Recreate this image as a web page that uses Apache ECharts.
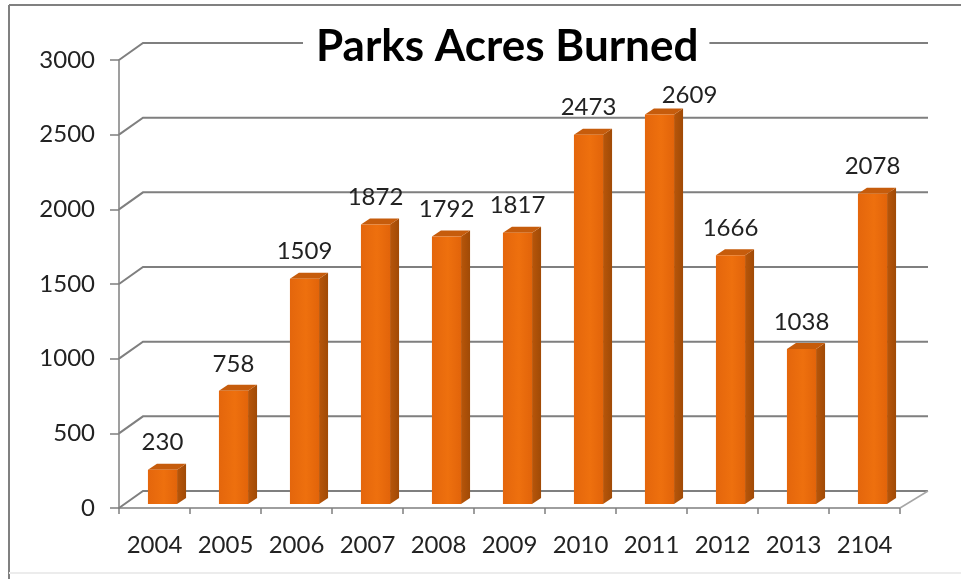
<!DOCTYPE html>
<html>
<head>
<meta charset="utf-8">
<style>html,body{margin:0;padding:0;background:#fff}#c{width:961px;height:579px;filter:blur(0.45px)}</style>
<script src="https://cdn.jsdelivr.net/npm/echarts@6/dist/echarts.min.js"></script>
</head>
<body>
<div id="c"></div>
<script>
const years = ['2004','2005','2006','2007','2008','2009','2010','2011','2012','2013','2104'];
const acres = [230,758,1509,1872,1792,1817,2473,2609,1666,1038,2078];
const yTicks = [0,500,1000,1500,2000,2500,3000];
const titleText = 'Parks Acres Burned';

const FONT = 'Lato, "Open Sans", sans-serif';
const LINE = '#7f7f7f';
const wallDx = 24, wallDy = 17, wallRightExtra = 4;
const barShiftX = 8, barShiftY = 4, barDx = 9, barDy = 6, barRatio = 0.41;
const labelGap = 21;
const labelOverride = {'2011': {dx: 30, gap: 13}};

const chart = echarts.init(document.getElementById('c'), null, {renderer:'canvas'});

function renderWall(params, api){
  const cs = params.coordSys;
  const v = api.value(0);
  const y = api.coord([0, v])[1];
  const x0 = cs.x, x1 = cs.x + cs.width;
  const children = [{
    type:'polyline',
    shape:{points:[[x0,y],[x0+wallDx,y-wallDy],[x1+wallDx+wallRightExtra,y-wallDy]]},
    style:{stroke:LINE,lineWidth:2,fill:null}
  }];
  if (v === 0) {
    children.push({
      type:'line',
      shape:{x1:x1,y1:y,x2:x1+wallDx+wallRightExtra,y2:y-wallDy},
      style:{stroke:'#a6a6a6',lineWidth:1.5}
    });
  }
  return {type:'group',children};
}

function renderBar(params, api){
  const idx = api.value(0);
  const val = api.value(1);
  const top0 = api.coord([idx, val]);
  const base0 = api.coord([idx, 0]);
  const band = api.size([1,0])[0];
  const w = band * barRatio;
  const x0 = top0[0] + barShiftX - w/2, x1 = x0 + w;
  const base = base0[1] - barShiftY;
  const top = top0[1] - barShiftY;
  const ov = labelOverride[years[idx]] || {};
  const cx = top0[0] + barShiftX + (ov.dx || 0);
  const gap = ov.gap !== undefined ? ov.gap : labelGap;
  return {type:'group',children:[
    {type:'polygon',shape:{points:[[x1,base],[x1+barDx,base-barDy],[x1+barDx,top-barDy],[x1,top]]},
      style:{fill:new echarts.graphic.LinearGradient(0,0,1,0,[{offset:0,color:'#B8560A'},{offset:1,color:'#A04A06'}])}},
    {type:'polygon',shape:{points:[[x0,top],[x0+barDx,top-barDy],[x1+barDx,top-barDy],[x1,top]]},
      style:{fill:'#C65C0C'}},
    {type:'rect',shape:{x:x0,y:top,width:w,height:base-top},
      style:{fill:new echarts.graphic.LinearGradient(0,0,1,0,[{offset:0,color:'#E4660C'},{offset:0.55,color:'#EE700E'},{offset:1,color:'#E2640A'}])}},
    {type:'text',x:cx,y:top-barDy-gap,
      style:{text:String(val),fill:'#222',font:'24px '+FONT,align:'center',verticalAlign:'middle'}}
  ]};
}

chart.setOption({
  animation:false,
  backgroundColor:'#fff',
  title:{
    text:titleText,left:303,top:22,padding:[0,11,0,13],backgroundColor:'#fff',
    textStyle:{fontFamily:FONT,fontWeight:'bold',fontSize:44,color:'#000',lineHeight:50}
  },
  grid:{left:119,right:61,top:60,bottom:71},
  xAxis:{
    type:'category',data:years,
    axisLine:{lineStyle:{color:LINE,width:1.5}},
    axisTick:{show:true,length:6,alignWithLabel:false,lineStyle:{color:LINE,width:1.5}},
    axisLabel:{color:'#222',fontFamily:FONT,fontSize:24,margin:25,interval:0},
    splitLine:{show:false}
  },
  yAxis:{
    type:'value',min:0,max:3000,interval:500,
    axisLine:{show:true,lineStyle:{color:LINE,width:1.5}},
    axisTick:{show:true,length:9,lineStyle:{color:LINE,width:1.5}},
    axisLabel:{color:'#222',fontFamily:FONT,fontSize:24,margin:24,padding:[7,0,0,0],formatter:v=>String(v)},
    splitLine:{show:false}
  },
  graphic:[
    {type:'line',silent:true,z:0,shape:{x1:9,y1:5,x2:961,y2:5},style:{stroke:'#808080',lineWidth:2}},
    {type:'line',silent:true,z:0,shape:{x1:9,y1:5,x2:9,y2:579},style:{stroke:'#808080',lineWidth:2}},
    {type:'line',silent:true,z:0,shape:{x1:9,y1:573,x2:961,y2:573},style:{stroke:'#ececec',lineWidth:2}}
  ],
  series:[
    {type:'custom',name:'wall',renderItem:renderWall,data:yTicks.map(v=>[v]),clip:false,silent:true,z:1,encode:{y:0}},
    {type:'custom',name:'Acres Burned',renderItem:renderBar,data:acres.map((v,i)=>[i,v]),clip:false,z:3,encode:{x:0,y:1}}
  ]
});
</script>
</body>
</html>
